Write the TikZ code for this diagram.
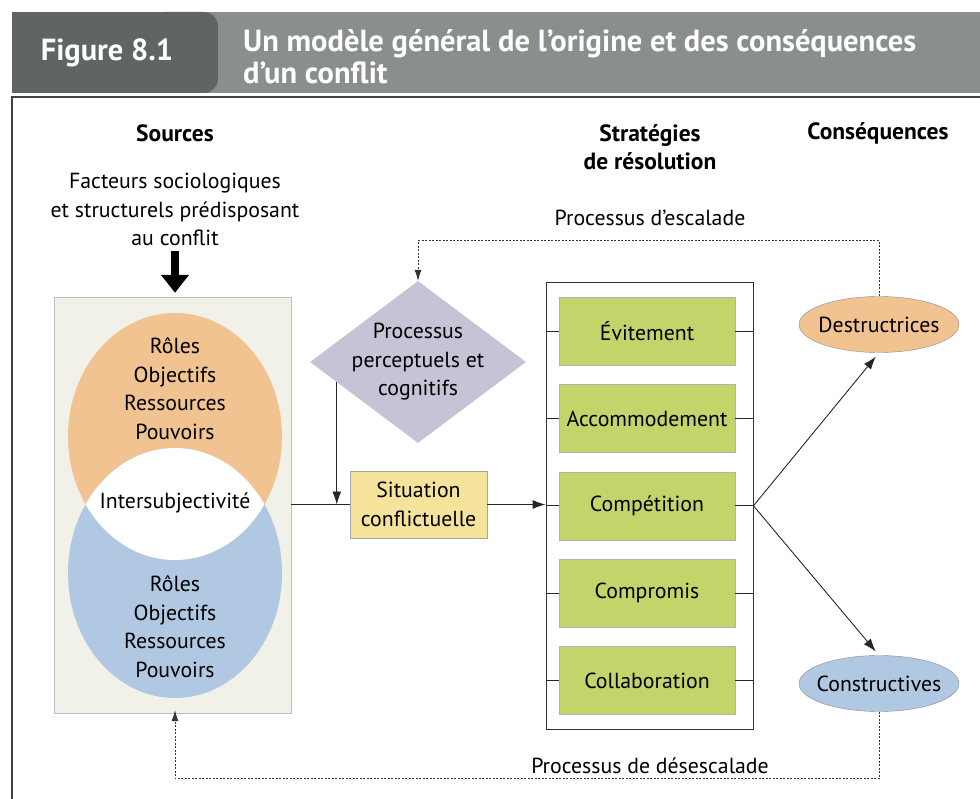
\documentclass[tikz,border=0pt]{standalone}
\usepackage{fontspec}
\setmainfont{PT Sans}
\usetikzlibrary{arrows.meta,positioning,shapes.geometric}
\definecolor{headdark}{HTML}{5F6661}
\definecolor{headlight}{HTML}{898F8A}
\definecolor{panelbg}{HTML}{F1F0E9}
\definecolor{venorange}{HTML}{F0C391}
\definecolor{venblue}{HTML}{B1C8E3}
\definecolor{diamfill}{HTML}{C8C2D6}
\definecolor{sitfill}{HTML}{F6E39B}
\definecolor{stratgreen}{HTML}{C3D46A}

\begin{document}
\begin{tikzpicture}[x=1pt, y=-1pt, font=\fontsize{21.8}{28.5}\selectfont,
  txt/.style={align=center, inner sep=0pt},
  hdr/.style={align=center, inner sep=0pt, font=\fontsize{23.5}{28.5}\selectfont\bfseries},
  stratbox/.style={draw=black!30, fill=stratgreen, minimum width=176pt, minimum height=68pt, inner sep=0pt},
  conseq/.style={ellipse, draw=black!45, minimum width=160pt, minimum height=56pt, inner xsep=-7pt, inner ysep=0pt},
  ln/.style={line width=0.9pt, color=black!85},
  arr/.style={-{Latex[length=13pt,width=9pt]}, line width=0.9pt, color=black!85},
  dotarr/.style={-{Latex[length=11pt,width=7pt]}, line width=0.8pt, color=black!80, dash pattern=on 2pt off 1.5pt},
  bigarr/.style={-{Triangle[length=18pt,width=27pt]}, line width=8pt}
]
\useasboundingbox (0,0) rectangle (980,799);
\fill[headlight] (12,12) rectangle (980,93);
\fill[headdark] (12,12) rectangle (190,93);
\fill[headdark, rounded corners=14pt] (150,12) rectangle (218,93);
\node[txt, text=white, font=\fontsize{30.5}{32}\selectfont\bfseries] (fignum) at (107,53) {Figure 8.1};
\node[txt, text=white, font=\fontsize{30.5}{32}\selectfont\bfseries, align=left, anchor=west] (title) at (243,57) {Un modèle général de l’origine et des conséquences\\d’un conflit};
\draw[black!75, line width=1.5pt] (12,799) -- (12,97) -- (980,97);

\node[hdr] (hsrc) at (175,133) {Sources};
\node[hdr] (hstrat) at (650,147) {Stratégies\\de résolution};
\node[hdr] (hcons) at (878,133) {Conséquences};
\node[txt] (fact) at (175,209.5) {Facteurs sociologiques\\et structurels prédisposant\\au conflit};

\node[draw=black!25, fill=panelbg, minimum width=237pt, minimum height=416pt, inner sep=0pt] (panel) at (172.5,505) {};
\draw[bigarr] ([yshift=-5pt]fact.south) -- ([yshift=4pt]fact.south |- panel.north);
\fill[venorange] (175,436.5) ellipse [x radius=107, y radius=123.5];
\fill[venblue] (175,573) ellipse [x radius=107, y radius=125];
\begin{scope}
\clip (175,436.5) ellipse [x radius=107, y radius=123.5];
\fill[white] (175,573) ellipse [x radius=107, y radius=125];
\end{scope}
\node[txt] (roles1) at (175,388.5) {Rôles\\Objectifs\\Ressources\\Pouvoirs};
\node[txt] (inter) at (175,503) {Intersubjectivité};
\node[txt] (roles2) at (175,626.5) {Rôles\\Objectifs\\Ressources\\Pouvoirs};

\node[diamond, fill=diamfill, minimum width=216pt, minimum height=162pt, inner sep=0pt] (percep) at (418,362) {};
\node[txt] (perceptxt) at (percep) {Processus\\perceptuels et\\cognitifs};
\node[draw=black!35, fill=sitfill, minimum width=137pt, minimum height=67pt, inner sep=0pt, align=center] (sit) at (418.5,504.5) {Situation\\conflictuelle};

\node[draw=black!80, line width=0.9pt, minimum width=207pt, minimum height=447pt, inner sep=0pt] (frame) at (649.5,505.5) {};
\node[stratbox] (s1) at (647,331) {Évitement};
\node[stratbox, below=19pt of s1] (s2) {Accommodement};
\node[stratbox, below=19pt of s2] (s3) {Compétition};
\node[stratbox, below=19pt of s3] (s4) {Compromis};
\node[stratbox, below=19pt of s4] (s5) {Collaboration};
\draw[ln] (s1.west) -- (s1.west -| frame.west); \draw[ln] (s1.east) -- (s1.east -| frame.east);
\draw[ln] (s2.west) -- (s2.west -| frame.west); \draw[ln] (s2.east) -- (s2.east -| frame.east);
\draw[ln] (s3.west) -- (s3.west -| frame.west); \draw[ln] (s3.east) -- (s3.east -| frame.east);
\draw[ln] (s4.west) -- (s4.west -| frame.west); \draw[ln] (s4.east) -- (s4.east -| frame.east);
\draw[ln] (s5.west) -- (s5.west -| frame.west); \draw[ln] (s5.east) -- (s5.east -| frame.east);

\node[conseq, fill=venorange] (dest) at (879,324.5) {Destructrices};
\node[conseq, fill=venblue] (const) at (879,683.5) {Constructives};

\draw[ln] (panel.east |- sit.west) -- (sit.west);
\draw[arr] (percep.194) -- (percep.194 |- sit.west);
\draw[arr] (sit.east) -- (sit.east -| frame.west);
\draw[arr, shorten >=5pt] (s3.east -| frame.east) -- (dest.south);
\draw[arr, shorten >=5pt] (s3.east -| frame.east) -- (const.north);

\node[txt] (esc) at (650,218) {Processus d’escalade};
\node[txt] (desc) at (650,766) {Processus de désescalade};
\draw[dotarr] (dest.north) -- ++(0,-55.5) -| (percep.north);
\draw[dotarr, shorten >=-4pt] (const.south) -- ++(0,67) -| ([yshift=-1pt]fact.south |- panel.south);
\end{tikzpicture}
\end{document}
